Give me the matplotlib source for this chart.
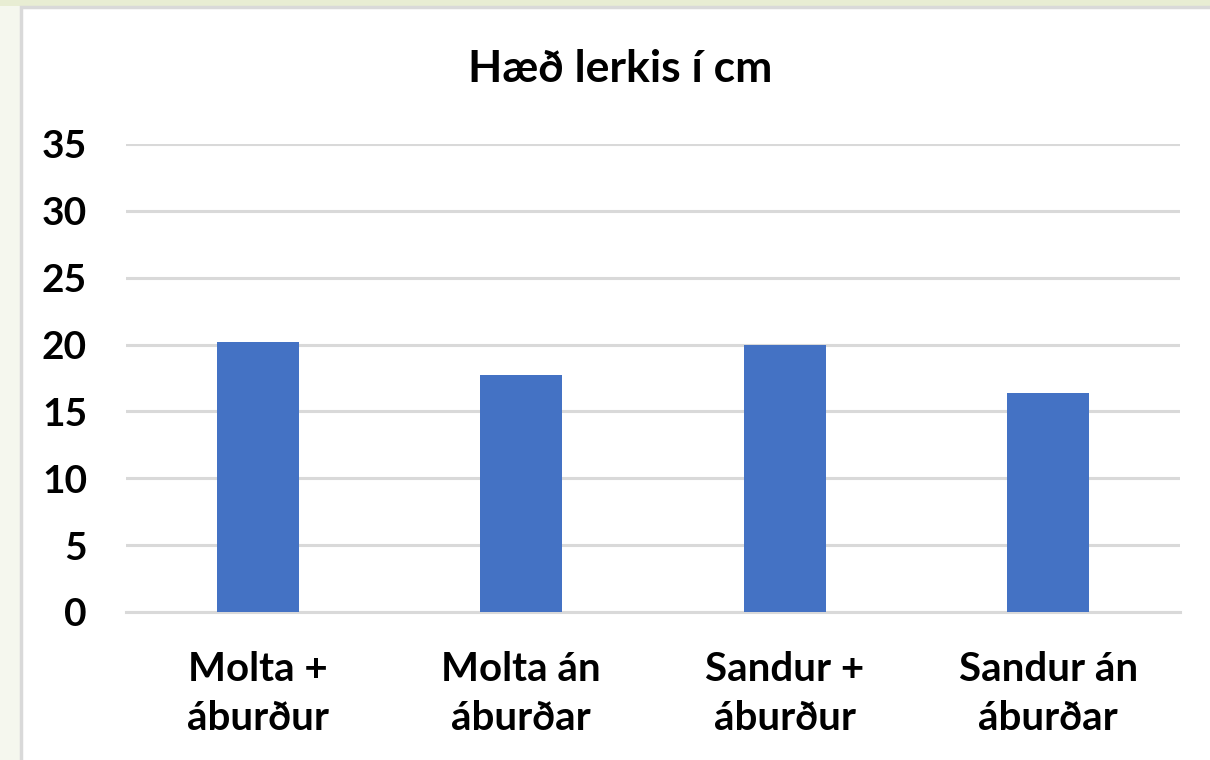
import matplotlib
matplotlib.use("Agg")
import matplotlib.pyplot as plt
from matplotlib.patches import Rectangle

# data
categories = ["Molta +\náburður", "Molta án\náburðar", "Sandur +\náburður", "Sandur án\náburðar"]
heights = [20.2, 17.7, 20.0, 16.4]
yticks = [0, 5, 10, 15, 20, 25, 30, 35]
title = "Hæð lerkis í cm"

BAR = "#4472C4"
GRID = "#D9D9D9"

plt.rcParams['font.family'] = ['Lato', 'DejaVu Sans']
plt.rcParams['font.weight'] = 'bold'

W, H = 1210, 760
fig = plt.figure(figsize=(W / 100, H / 100), dpi=100)
fig.patch.set_facecolor("#F5F7EE")

# greenish strip at top and white chart frame
fig.patches.append(Rectangle((0, 1 - 6 / H), 1, 6 / H, transform=fig.transFigure,
                             facecolor="#E8EDD3", edgecolor="none", zorder=-2))
fig.patches.append(Rectangle((21 / W, -0.05), 1.1, 1.05 - 6.5 / H, transform=fig.transFigure,
                             facecolor="white", edgecolor=GRID, linewidth=2.5, zorder=-1))

ax = fig.add_axes([126 / W, 1 - 612 / H, (1180 - 126) / W, (612 - 144) / H])
ax.set_facecolor("none")
ax.set_zorder(2)

x = range(len(categories))
ax.bar(x, heights, width=0.31, color=BAR, zorder=3)

ax.set_xlim(-0.5, len(categories) - 0.5)
ax.set_ylim(0, 35)
ax.set_yticks(yticks)
ax.set_yticklabels([str(v) for v in yticks], fontsize=28, fontweight='bold')
ax.set_xticks(list(x))
ax.set_xticklabels(categories, fontsize=29, fontweight='bold', linespacing=1.4)

ax.yaxis.grid(True, color=GRID, linewidth=2.2)
ax.set_axisbelow(True)
for s in ["top", "right", "left"]:
    ax.spines[s].set_visible(False)
ax.spines["bottom"].set_color(GRID)
ax.spines["bottom"].set_linewidth(2.2)
ax.tick_params(axis="y", length=0, pad=28)
ax.tick_params(axis="x", length=0, pad=28)

fig.text(620 / W, 1 - 69 / H, title, ha="center", va="center",
         fontsize=32, fontweight='bold')

fig.savefig("out.png", dpi=100, facecolor=fig.get_facecolor())
